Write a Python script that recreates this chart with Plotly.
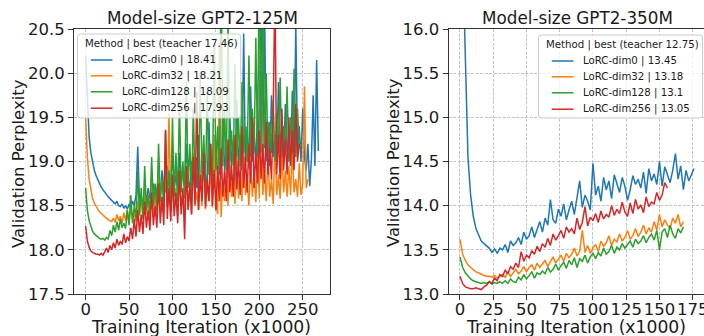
import plotly.graph_objects as go

# ---------------- data ----------------
# GPT2-125M (left), x in thousands of iterations, step 2
x125_dim0 = list(range(0, 270, 2))
ppl125_dim0 = [
    20.20, 19.62, 19.28, 19.10, 18.98, 18.90, 18.84, 18.79, 18.75, 18.71, 18.68, 18.65, 18.62, 18.60, 18.58, 18.56,
    18.55, 18.52, 18.55, 18.50, 18.49, 18.52, 18.47, 18.50, 18.46, 18.52,
    18.48, 18.55, 18.50, 18.62, 19.17, 18.55, 18.60, 18.52, 18.66, 18.56, 18.70, 18.58, 18.62, 18.75, 18.60,
    18.68, 18.82, 18.62, 18.90, 18.70, 18.65, 18.95, 18.72, 18.80, 19.05, 18.70, 18.85, 18.66, 19.10, 18.75, 18.90,
    18.70, 19.20, 18.78, 18.72, 19.00, 18.80, 18.95, 18.70, 19.30, 18.82, 18.76, 19.05, 18.85, 18.74, 19.45, 18.80,
    18.92, 18.78, 19.15,
    18.85, 19.25, 18.80, 19.60, 18.90, 19.10, 18.82, 19.55, 18.95, 19.20, 18.72, 19.70, 18.92, 19.30, 18.90, 20.45,
    18.95, 19.40, 18.92, 19.85, 19.00, 19.35, 18.95, 19.60, 19.05,
    21.20, 19.10, 20.80, 19.00, 19.45, 18.95, 19.75, 19.05, 19.30, 18.98, 19.90, 19.10, 19.40, 19.00, 19.65, 19.10,
    19.25, 18.95, 19.80, 19.05, 20.55, 19.10, 19.40, 19.00, 19.60,
    19.05, 18.90, 19.20, 18.72, 19.02, 19.75, 18.95, 20.15, 19.12,
]
x125_dim32 = list(range(0, 258, 2))
ppl125_dim32 = [
    19.50, 19.05, 18.80, 18.66, 18.58, 18.53, 18.49, 18.46, 18.43, 18.41, 18.39, 18.37, 18.35, 18.34, 18.33, 18.32,
    18.36, 18.31, 18.40, 18.33, 18.38, 18.30, 18.42, 18.33, 18.45, 18.30, 18.48, 18.35, 18.40, 18.32, 18.55,
    18.38, 18.62, 18.35, 18.70, 18.40, 18.58, 18.33, 18.80, 18.42, 18.65, 18.38, 18.90, 18.45, 18.60, 18.40, 19.00,
    18.48, 19.55, 18.42, 18.75,
    18.45, 18.70, 18.38, 18.85, 18.50, 18.62, 18.42, 18.95, 18.48, 18.70, 18.40, 19.10, 18.52, 18.66, 18.45, 18.88,
    18.50, 19.20, 18.46, 18.75, 18.55, 18.95, 18.48, 19.30, 18.52,
    18.40, 20.35, 18.37, 18.80, 18.55, 18.92, 18.50, 19.05, 18.60, 18.85, 18.52, 19.15, 18.58, 18.90, 18.55, 19.25,
    18.62, 18.80, 18.50, 19.00, 18.60, 18.88, 18.54, 19.10, 18.58,
    20.20, 18.62, 18.90, 18.55, 19.05, 18.60, 18.80, 18.52, 19.20, 18.62, 18.85, 18.58, 19.10, 18.65, 18.90, 18.60,
    18.95, 18.62, 19.15, 18.65, 18.80, 18.60, 18.98, 18.62, 18.75, 19.85, 18.70, 18.80,
]
x125_dim128 = list(range(0, 250, 2))
ppl125_dim128 = [
    18.70, 18.45, 18.33, 18.26, 18.21, 18.18, 18.16, 18.14, 18.13, 18.12, 18.13, 18.11, 18.14, 18.12, 18.22, 18.16,
    18.28, 18.20, 18.32, 18.22, 18.35, 18.25, 18.30, 18.24, 18.45, 18.28, 18.62, 18.30, 18.50, 18.35, 18.88,
    18.40, 18.70, 18.35, 18.95, 18.45, 18.62, 18.40, 19.05, 18.50, 18.75, 18.45, 19.20, 18.55, 18.80, 18.48, 19.35,
    18.55, 18.90, 18.50, 19.50,
    18.60, 19.10, 18.55, 19.70, 18.65, 19.00, 18.58, 19.90, 18.70, 19.20, 18.62, 19.60, 18.75, 19.05, 18.68, 20.00,
    18.80, 19.30, 18.70, 19.80, 18.85, 19.20, 18.75, 20.30, 18.90,
    19.40, 18.85, 21.20, 18.95, 19.60, 18.90, 20.60, 19.00, 19.35, 18.95, 20.10, 19.05, 19.50, 18.95, 19.90, 19.10,
    19.40, 19.00, 20.20, 19.05, 19.60, 19.10, 20.40, 19.05, 21.50,
    19.10, 21.00, 19.15, 20.00, 19.05, 19.45, 19.10, 19.70, 19.00, 19.55, 19.15, 19.95, 19.05, 19.40, 19.10, 19.85,
    19.00, 19.50, 19.10, 20.05, 19.05, 19.60, 19.15, 19.20,
]
x125_dim256 = list(range(0, 248, 2))
ppl125_dim256 = [
    18.27, 18.10, 18.03, 17.99, 17.97, 17.96, 17.95, 17.95, 17.94, 17.96, 17.94, 17.98, 18.02, 17.97, 18.05, 18.00,
    18.08, 18.02, 18.12, 18.05, 18.10, 18.06, 18.18, 18.08, 18.15, 18.10, 18.25, 18.12, 18.35, 18.15, 18.45,
    18.20, 18.40, 18.18, 18.55, 18.25, 18.45, 18.22, 18.65, 18.28, 18.50, 18.25, 18.75, 18.30, 18.60, 18.28, 19.36,
    18.35, 18.70, 18.32, 18.85,
    18.38, 18.65, 18.30, 18.90, 18.40, 18.70, 18.12, 18.95, 18.45, 18.75, 18.40, 19.05, 18.50, 19.79, 18.45, 18.85,
    18.55, 19.10, 18.48, 18.80, 18.55, 19.20, 18.50, 18.90, 18.45,
    18.95, 18.55, 19.15, 18.60, 18.90, 18.55, 19.25, 18.65, 18.95, 18.60, 19.30, 18.68, 19.00, 18.62, 19.40, 18.70,
    19.05, 18.65, 19.20, 18.75, 19.50, 18.70, 19.10, 18.75, 19.35,
    18.80, 19.20, 18.75, 19.45, 18.85, 19.15, 18.80, 19.55, 21.00, 18.85, 19.30, 18.80, 19.60, 18.90, 19.25, 18.85,
    19.50, 18.95, 19.35, 18.90, 19.65, 19.00, 19.20,
]

# GPT2-350M (right)
x350_dim0 = list(range(0, 178, 2))
ppl350_dim0 = [
    19.00, 16.90, 15.70, 14.55, 14.12, 13.88, 13.74, 13.66, 13.60, 13.57, 13.55, 13.52, 13.47, 13.51, 13.46, 13.52,
    13.50, 13.56, 13.47, 13.60, 13.55, 13.58, 13.64, 13.56, 13.70, 13.62, 13.66, 13.76, 13.64, 13.72, 13.82,
    13.70, 13.86, 13.78, 14.07, 13.84, 13.80, 13.96, 13.88, 14.02, 13.84, 13.95, 14.05, 13.90, 14.10, 14.28, 13.98,
    14.12, 14.05, 13.95, 14.48,
    14.12, 14.22, 14.05, 14.32, 14.18, 14.28, 14.08, 14.35, 14.25, 14.15, 14.32, 14.22, 14.06, 14.18, 14.34, 14.24,
    14.30, 14.20, 14.38, 14.14,
    14.42, 14.28, 14.36, 14.24, 14.50, 14.22, 14.44, 14.34, 14.26, 14.40, 14.59, 14.30, 14.45, 14.18, 14.40, 14.28,
    14.36, 14.42,
]
x350_dim32 = list(range(0, 170, 2))
ppl350_dim32 = [
    13.62, 13.45, 13.38, 13.33, 13.30, 13.27, 13.25, 13.24, 13.22, 13.21, 13.20, 13.20, 13.19, 13.21, 13.18, 13.20,
    13.22, 13.19, 13.25, 13.20, 13.24, 13.28, 13.23, 13.26, 13.31, 13.25, 13.30, 13.33, 13.27, 13.35, 13.30,
    13.34, 13.38, 13.31, 13.36, 13.42, 13.35, 13.40, 13.44, 13.37, 13.46, 13.41, 13.45, 13.52, 13.43, 13.48, 13.72,
    13.47, 13.55, 13.46, 13.52,
    13.56, 13.48, 13.60, 13.54, 13.58, 13.66, 13.55, 13.62, 13.59, 13.68, 13.60, 13.64, 13.72, 13.62, 13.66, 13.74,
    13.65, 13.70, 13.78, 13.68,
    13.75, 13.70, 13.82, 13.72, 13.90, 13.76, 13.84, 13.78, 13.74, 13.86, 13.80, 13.90, 13.76, 13.82,
]
x350_dim128 = list(range(0, 170, 2))
ppl350_dim128 = [
    13.42, 13.30, 13.24, 13.20, 13.17, 13.15, 13.14, 13.13, 13.12, 13.13, 13.12, 13.14, 13.11, 13.13, 13.12, 13.14,
    13.12, 13.15, 13.12, 13.17, 13.14, 13.13, 13.19, 13.16, 13.22, 13.17, 13.21, 13.25, 13.18, 13.24, 13.22,
    13.26, 13.23, 13.30, 13.25, 13.28, 13.34, 13.27, 13.32, 13.36, 13.29, 13.38, 13.33, 13.41, 13.30, 13.40, 13.37,
    13.44, 13.35, 13.42, 13.46,
    13.40, 13.47, 13.43, 13.52, 13.45, 13.48, 13.55, 13.46, 13.53, 13.50, 13.57, 13.52, 13.56, 13.60, 13.53, 13.62,
    13.57, 13.60, 13.66, 13.58,
    13.64, 13.68, 13.61, 13.72, 13.50, 13.70, 13.74, 13.64, 13.78, 13.68, 13.63, 13.74, 13.69, 13.76,
]
x350_dim256 = list(range(0, 158, 2))
ppl350_dim256 = [
    13.20, 13.12, 13.08, 13.07, 13.06, 13.06, 13.07, 13.06, 13.05, 13.08, 13.10, 13.14, 13.12, 13.18, 13.15, 13.22,
    13.20, 13.27, 13.23, 13.31, 13.28, 13.35, 13.30, 13.48, 13.37, 13.44, 13.41, 13.49, 13.45, 13.54, 13.48,
    13.57, 13.53, 13.63, 13.55, 13.68, 13.61, 13.66, 13.72, 13.63, 13.76, 13.70, 13.74, 13.68, 13.86, 13.73, 13.81,
    13.99, 13.77, 13.87, 13.83,
    13.91, 13.81, 13.94, 13.85, 13.90, 13.87, 14.00, 13.89, 13.96, 13.91, 14.04, 13.93, 13.88, 14.03, 13.91, 14.07,
    13.96, 14.01, 13.92, 14.10, 13.99, 14.04, 14.02, 14.15, 14.06, 14.12, 14.26, 14.20,
]

names125 = ["LoRC-dim0 | 18.41", "LoRC-dim32 | 18.21", "LoRC-dim128 | 18.09", "LoRC-dim256 | 17.93"]
names350 = ["LoRC-dim0 | 13.45", "LoRC-dim32 | 13.18", "LoRC-dim128 | 13.1", "LoRC-dim256 | 13.05"]
titles = ["Model-size GPT2-125M", "Model-size GPT2-350M"]
legend_titles = ["Method | best (teacher 17.46)", "Method | best (teacher 12.75)"]
x_ticks125 = [0, 50, 100, 150, 200, 250]
x_ticks350 = [0, 25, 50, 75, 100, 125, 150, 175]
y_ticks125 = [17.5, 18.0, 18.5, 19.0, 19.5, 20.0, 20.5]
y_ticks350 = [13.0, 13.5, 14.0, 14.5, 15.0, 15.5, 16.0]

colors = ["#1f77b4", "#ff7f0e", "#2ca02c", "#d62728"]

# ---------------- figure ----------------
W, H = 704, 336
FONT = "DejaVu Sans"
TXT = "#1a1a1a"
FS = 16.5


def px_x(p):
    return p / W


def px_y(p):
    return 1 - p / H


fig = go.Figure()

left = [(x125_dim0, ppl125_dim0), (x125_dim32, ppl125_dim32), (x125_dim128, ppl125_dim128), (x125_dim256, ppl125_dim256)]
right = [(x350_dim0, ppl350_dim0), (x350_dim32, ppl350_dim32), (x350_dim128, ppl350_dim128), (x350_dim256, ppl350_dim256)]

for i, (xs, ys) in enumerate(left):
    fig.add_trace(go.Scatter(x=xs, y=ys, mode="lines", name=names125[i],
                             line=dict(color=colors[i], width=1.5),
                             xaxis="x", yaxis="y", showlegend=False))
for i, (xs, ys) in enumerate(right):
    fig.add_trace(go.Scatter(x=xs, y=ys, mode="lines", name=names350[i],
                             line=dict(color=colors[i], width=1.5),
                             xaxis="x2", yaxis="y2", showlegend=False))

axis_common = dict(
    showline=True, linecolor="#333", linewidth=1, mirror=True,
    ticks="outside", ticklen=5, tickcolor="#333", tickwidth=1,
    showgrid=True, gridcolor="#c4c4c4", gridwidth=0.8, griddash="3px,1.5px",
    zeroline=False, tickfont=dict(family=FONT, size=FS, color=TXT), automargin=False,
)
xaxis_extra = dict(ticklabelstandoff=-5, tickangle=0)

ydom = [px_y(294), px_y(29)]
fig.update_layout(
    width=W, height=H, autosize=False,
    margin=dict(l=0, r=0, t=0, b=0, pad=0, autoexpand=False),
    paper_bgcolor="white", plot_bgcolor="white",
    font=dict(family=FONT, color=TXT),
    showlegend=False,
    xaxis=dict(domain=[px_x(74), px_x(330)], range=[-13.4, 281.4], tickvals=x_ticks125, anchor="y",
               **axis_common, **xaxis_extra),
    yaxis=dict(domain=ydom, range=[17.5, 20.5], tickvals=y_ticks125, tickformat=".1f", anchor="x", **axis_common),
    xaxis2=dict(domain=[px_x(448.5), 1.0], range=[-8.63, 183.5], tickvals=x_ticks350, anchor="y2",
                ticklabeloverflow="allow", **axis_common, **xaxis_extra),
    yaxis2=dict(domain=ydom, range=[13.0, 16.0], tickvals=y_ticks350, tickformat=".1f", anchor="x2", **axis_common),
)

ann = []
shapes = []

for cx, t in [(202, titles[0]), (577, titles[1])]:
    ann.append(dict(x=px_x(cx), y=px_y(17.5), xref="paper", yref="paper", text=t, showarrow=False,
                    xanchor="center", yanchor="middle", font=dict(family=FONT, size=16.8, color=TXT)))
for cx in [201, 576]:
    ann.append(dict(x=px_x(cx), y=px_y(326.5), xref="paper", yref="paper", text="Training Iteration (x1000)",
                    showarrow=False, xanchor="center", yanchor="middle", font=dict(family=FONT, size=17.2, color=TXT)))
for cx, cy in [(18, 164), (393, 163)]:
    ann.append(dict(x=px_x(cx), y=px_y(cy), xref="paper", yref="paper", text="Validation Perplexity",
                    showarrow=False, textangle=-90, xanchor="center", yanchor="middle",
                    font=dict(family=FONT, size=FS, color=TXT)))


def rounded_rect(x0, y0, x1, y1, r=3):
    # pixel coords -> paper path
    X = lambda p: f"{px_x(p):.5f}"
    Y = lambda p: f"{px_y(p):.5f}"
    return (f"M {X(x0 + r)},{Y(y0)} L {X(x1 - r)},{Y(y0)} Q {X(x1)},{Y(y0)} {X(x1)},{Y(y0 + r)} "
            f"L {X(x1)},{Y(y1 - r)} Q {X(x1)},{Y(y1)} {X(x1 - r)},{Y(y1)} "
            f"L {X(x0 + r)},{Y(y1)} Q {X(x0)},{Y(y1)} {X(x0)},{Y(y1 - r)} "
            f"L {X(x0)},{Y(y0 + r)} Q {X(x0)},{Y(y0)} {X(x0 + r)},{Y(y0)} Z")


# manual legends (matplotlib style)
legend_boxes = [(77.5, 34, 240.7, 118, legend_titles[0], names125),
                (538.5, 35, 702.5, 118, legend_titles[1], names350)]
row_offsets = [26, 41.8, 57.8, 74.2]
for bx0, by0, bx1, by1, ltitle, names in legend_boxes:
    shapes.append(dict(type="path", path=rounded_rect(bx0, by0, bx1, by1), xref="paper", yref="paper",
                       fillcolor="rgba(255,255,255,0.8)", line=dict(color="#cccccc", width=1), layer="above"))
    ann.append(dict(x=px_x(bx0 + 5), y=px_y(by0 + 10), xref="paper", yref="paper", text=ltitle, showarrow=False,
                    xanchor="left", yanchor="middle", font=dict(family=FONT, size=10.2, color=TXT)))
    for i, nm in enumerate(names):
        yy = by0 + row_offsets[i]
        shapes.append(dict(type="line", x0=px_x(bx0 + 13.3), x1=px_x(bx0 + 35), y0=px_y(yy), y1=px_y(yy),
                           xref="paper", yref="paper", line=dict(color=colors[i], width=1.5), layer="above"))
        ann.append(dict(x=px_x(bx0 + 42.5), y=px_y(yy), xref="paper", yref="paper", text=nm, showarrow=False,
                        xanchor="left", yanchor="middle", font=dict(family=FONT, size=10.2, color=TXT)))

fig.update_layout(annotations=ann, shapes=shapes)

fig.write_html("out.html", config={"displayModeBar": False},
               post_script="document.body.style.margin='0';")
